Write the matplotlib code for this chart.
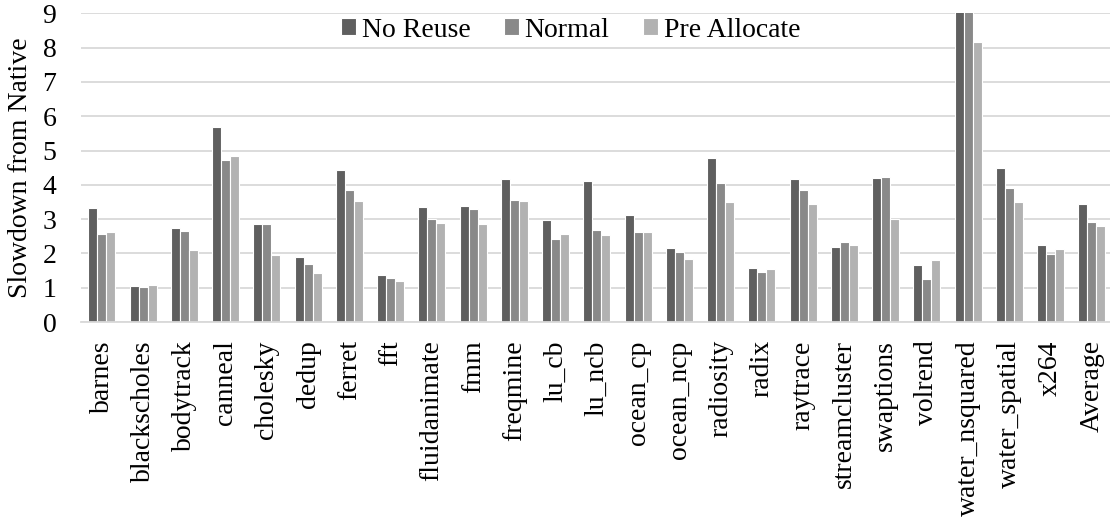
import matplotlib
matplotlib.use("Agg")
import matplotlib.pyplot as plt
import numpy as np

benchmarks = ["barnes", "blackscholes", "bodytrack", "canneal", "cholesky", "dedup",
              "ferret", "fft", "fluidanimate", "fmm", "freqmine", "lu_cb", "lu_ncb",
              "ocean_cp", "ocean_ncp", "radiosity", "radix", "raytrace", "streamcluster",
              "swaptions", "volrend", "water_nsquared", "water_spatial", "x264", "Average"]

no_reuse = [3.32, 1.05, 2.73, 5.69, 2.86, 1.90, 4.44, 1.36, 3.34, 3.39, 4.18, 2.97, 4.11,
            3.11, 2.15, 4.77, 1.57, 4.17, 2.19, 4.19, 1.66, 10.45, 4.48, 2.24, 3.43]
normal = [2.56, 1.01, 2.66, 4.72, 2.85, 1.69, 3.86, 1.28, 3.00, 3.31, 3.57, 2.41, 2.67,
          2.62, 2.05, 4.05, 1.47, 3.85, 2.33, 4.23, 1.27, 9.60, 3.92, 1.97, 2.92]
pre_allocate = [2.62, 1.08, 2.10, 4.83, 1.96, 1.42, 3.53, 1.21, 2.89, 2.87, 3.52, 2.57, 2.53,
                2.62, 1.83, 3.50, 1.55, 3.44, 2.24, 3.00, 1.81, 8.17, 3.50, 2.13, 2.79]

series = [("No Reuse", no_reuse, "#5f5f5f"),
          ("Normal", normal, "#898989"),
          ("Pre Allocate", pre_allocate, "#b2b2b2")]

plt.rcParams["font.family"] = ["Liberation Serif", "DejaVu Serif"]
plt.rcParams["font.size"] = 20

fig = plt.figure(figsize=(11.1, 5.22), dpi=100)
ax = fig.add_axes([0.0733, 0.383, 0.929, 0.5915])

x = np.arange(len(benchmarks))
step = 0.218
for i, (name, vals, col) in enumerate(series):
    ax.bar(x + (i - 1) * step, vals, width=step, color=col, edgecolor="white",
           linewidth=0.8, label=name, zorder=2)

ax.set_xlim(-0.5, len(benchmarks) - 0.5)
ax.set_ylim(0, 9)
ax.set_yticks(range(10))
ax.yaxis.grid(True, color="#d9d9d9", linewidth=1.3, zorder=0)
ax.set_axisbelow(True)
for s in ("top", "right", "left"):
    ax.spines[s].set_visible(False)
ax.spines["bottom"].set_color("#d9d9d9")
ax.spines["bottom"].set_linewidth(1.3)
ax.tick_params(axis="both", length=0)
ax.tick_params(axis="x", pad=13)
ax.tick_params(axis="y", pad=18)
ax.set_xticks(x)
ax.set_xticklabels(benchmarks, rotation=90)
ax.set_ylabel("Slowdown from Native", labelpad=7)

fig.legend(loc="center", bbox_to_anchor=(0.514, 0.9425), ncol=3, frameon=False,
           handlelength=0.55, handleheight=0.55, handletextpad=0.2,
           columnspacing=1.2, borderpad=0)

fig.savefig("out.png", dpi=100)
